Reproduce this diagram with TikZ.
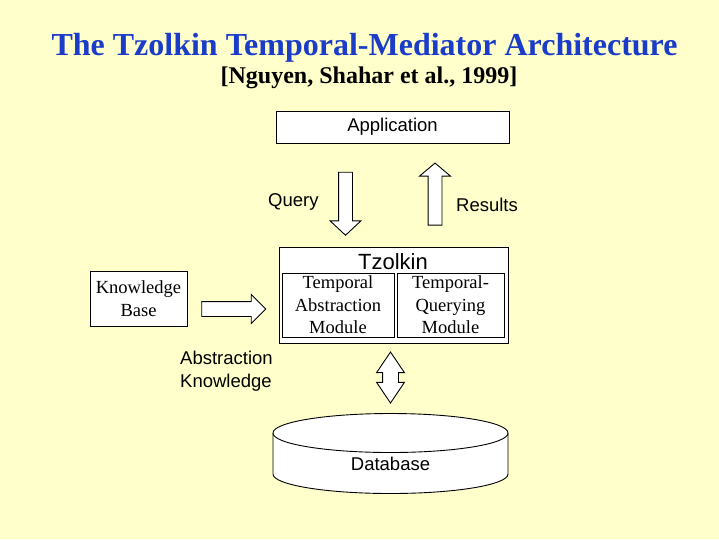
\documentclass[tikz,border=0pt]{standalone}
\usepackage{fontspec}
\setmainfont{Liberation Serif}
\setsansfont{Liberation Sans}
\usepackage{xcolor}
\usepackage{tikz}
\usetikzlibrary{positioning,shapes.arrows}
\definecolor{slidebg}{RGB}{255,255,204}
\definecolor{titleblue}{RGB}{26,60,200}

\begin{document}
\begin{tikzpicture}[x=1pt,y=-1pt,
  box/.style={draw,fill=white,line width=0.9pt,inner sep=0pt},
  lbl/.style={font=\sffamily\fontsize{18.5}{23}\selectfont,inner sep=0pt},
  mod/.style={box,align=center,font=\fontsize{18.5}{22.5}\selectfont},
  fatarrow/.style={draw,fill=white,line width=0.9pt,inner sep=0pt}]
% Slide background
\fill[slidebg] (0,0) rectangle (719,539);
\node[font=\bfseries\fontsize{32}{36}\selectfont,text=titleblue,anchor=base,inner sep=0pt] (title) at (364.5,55) {The Tzolkin Temporal-Mediator Architecture};
\node[font=\bfseries\fontsize{24}{28}\selectfont,anchor=base,inner sep=0pt] (cite) at (369,83) {[Nguyen, Shahar et al., 1999]};
% Application and its two arrows
\node[box,lbl,minimum width=233pt,minimum height=32pt] (app) at (392.5,127) {Application};
\node[fatarrow,single arrow,shape border rotate=270,inner xsep=6.5pt,minimum height=63pt,single arrow head extend=8.5pt,single arrow tip angle=94] (qry) at (345.5,200.5) {};
\node[fatarrow,single arrow,shape border rotate=90,inner xsep=6.5pt,minimum height=62pt,single arrow head extend=8.5pt,single arrow tip angle=100] (res) at (435,197) {};
\node[lbl,anchor=base west] (qlbl) at (268,206) {Query};
\node[lbl,anchor=base west] (rlbl) at (456,211) {Results};
% Tzolkin with its modules
\node[box,minimum width=229pt,minimum height=96pt] (tz) at (393.5,295) {};
\node[lbl,font=\sffamily\fontsize{22}{26}\selectfont,anchor=base] (tzl) at (393,269) {Tzolkin};
\node[mod,minimum width=112pt,minimum height=64pt] (tam) at (338,305) {Temporal\\Abstraction\\Module};
\node[mod,minimum width=107pt,minimum height=64pt] (tqm) at (450.5,305) {Temporal-\\Querying\\Module};
% Knowledge base
\node[mod,minimum width=97pt,minimum height=55pt] (kb) at (138.5,298.5) {Knowledge\\Base};
\node[fatarrow,single arrow,inner ysep=7pt,minimum height=64pt,single arrow head extend=7pt] (kbar) at (230,309) {};
\node[lbl,align=left,anchor=north west] (abk) at (180,351) {Abstraction\\Knowledge};
% Database
\node[fatarrow,double arrow,shape border rotate=90,inner xsep=7.5pt,minimum height=51pt,double arrow head extend=6pt,double arrow tip angle=68] (dbar) at (390.5,377.5) {};
\draw[box] (273,433) -- (273,474) arc[start angle=180,end angle=0,x radius=117.5,y radius=19.5] -- (508,433);
\draw[box] (390.5,433) ellipse[x radius=117.5,y radius=19.5];
\node[lbl,anchor=base] (db) at (390.5,470) {Database};
\end{tikzpicture}
\end{document}
